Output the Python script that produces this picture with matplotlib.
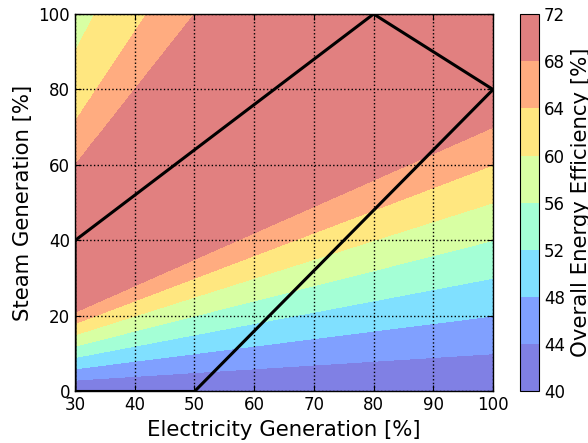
import numpy as np
import matplotlib
matplotlib.use("Agg")
import matplotlib.pyplot as plt
from matplotlib.colors import ListedColormap, BoundaryNorm

# Data: efficiency as a function of steam/electricity ratio
ratio_pts = [0.0, 0.1, 0.2, 0.3, 0.4, 0.5, 0.6, 0.7, 0.8, 2.0, 2.38, 3.0, 3.6]
eff_pts = [40, 44, 48, 52, 56, 60, 64, 68, 71.5, 68, 64, 60, 56]
levels = [40, 44, 48, 52, 56, 60, 64, 68, 72]

# Operating envelope polygon
env_elec = [30, 80, 100, 50, 30, 30]
env_steam = [40, 100, 80, 0, 0, 40]

x_ticks = [30, 40, 50, 60, 70, 80, 90, 100]
y_ticks = [0, 20, 40, 60, 80, 100]

elec = np.linspace(30, 100, 500)
steam = np.linspace(0, 100, 500)
E, S = np.meshgrid(elec, steam)
Z = np.interp(S / E, ratio_pts, eff_pts)

# jet colours at band midpoints, blended 50% with white
jet = plt.get_cmap('jet')
mids = [(levels[i] + levels[i + 1]) / 2 for i in range(len(levels) - 1)]
fr = [(m - levels[0]) / (levels[-1] - levels[0]) for m in mids]
band_cols = [tuple(0.5 * np.array(jet(f)[:3]) + 0.5) for f in fr]
cmap = ListedColormap(band_cols)
norm = BoundaryNorm(levels, cmap.N)

fig = plt.figure(figsize=(5.88, 4.43), dpi=100)
ax = fig.add_axes([0.1276, 0.1163, 0.7109, 0.8521])
cax = fig.add_axes([0.8844, 0.1163, 0.0323, 0.8521])

cf = ax.contourf(E, S, Z, levels=levels, cmap=cmap, norm=norm, antialiased=False)
ax.plot(env_elec, env_steam, color='black', linewidth=2.2, zorder=5)

ax.set_xlim(30, 100)
ax.set_ylim(0, 100)
ax.set_xticks(x_ticks)
ax.set_yticks(y_ticks)
ax.set_axisbelow(False)
ax.grid(True, color='black', linestyle=':', linewidth=1)
ax.tick_params(direction='in', top=True, right=True, labelsize=12, length=4)
for sp in ax.spines.values():
    sp.set_color('black')
    sp.set_linewidth(1)
    sp.set_zorder(6)
ax.set_xlabel('Electricity Generation [%]', fontsize=15.3)
ax.set_ylabel('Steam Generation [%]', fontsize=15.3)

cb = fig.colorbar(cf, cax=cax, ticks=levels)
cb.ax.tick_params(labelsize=12, direction='in', length=0)
cb.set_label('Overall Energy Efficiency [%]', fontsize=15.3)
cb.outline.set_edgecolor('black')

fig.savefig('out.png', dpi=100)
